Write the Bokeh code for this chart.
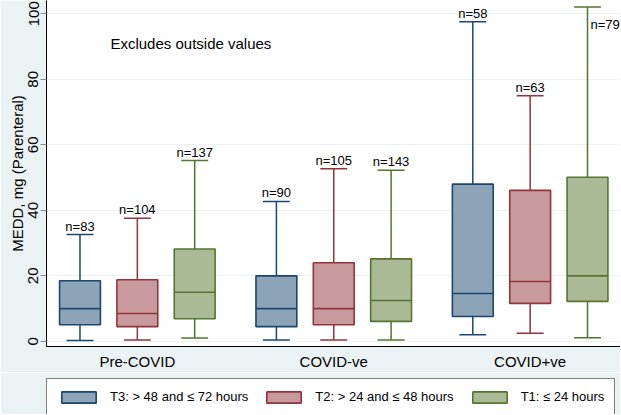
from bokeh.plotting import figure
from bokeh.layouts import column
from bokeh.models import ColumnDataSource, FixedTicker, Legend, LegendItem, Label
from bokeh.embed import file_html
from bokeh.resources import INLINE
from bokeh.core.properties import value

# ---------------- data ----------------
groups = ["Pre-COVID", "COVID-ve", "COVID+ve"]
series = ["T3: > 48 and \u2264 72 hours", "T2: > 24 and \u2264 48 hours", "T1: \u2264 24 hours"]

t3_low = [0.3, 0.4, 2.0]
t3_q1 = [5.1, 4.5, 7.6]
t3_med = [10.0, 10.0, 14.6]
t3_q3 = [18.5, 20.0, 48.0]
t3_high = [32.6, 42.7, 97.6]
t3_n = [83, 90, 58]

t2_low = [0.4, 0.4, 2.5]
t2_q1 = [4.5, 5.1, 11.6]
t2_med = [8.5, 10.0, 18.3]
t2_q3 = [18.8, 24.0, 46.1]
t2_high = [37.6, 52.7, 75.0]
t2_n = [104, 105, 63]

t1_low = [1.0, 0.4, 1.1]
t1_q1 = [6.9, 6.1, 12.2]
t1_med = [15.0, 12.5, 20.0]
t1_q3 = [28.2, 25.2, 50.1]
t1_high = [55.2, 52.2, 102.1]
t1_n = [137, 143, 79]

yticks = [0, 20, 40, 60, 80, 100]
note = "Excludes outside values"
ylabel = "MEDD, mg (Parenteral)"

# ---------------- styling ----------------
BG = "#EAF2F3"
FONT = "Liberation Sans"
line_cols = ["#1A476F", "#90353B", "#55752F"]
fill_cols = ["#8CA3B8", "#C89A9D", "#AABA97"]
offsets = [-0.292, 0.0, 0.292]
BOX_W = 0.208
CAP_W = 0.137

p = figure(width=620, height=372, output_backend="svg", toolbar_location=None,
           x_range=(0.5375, 3.46), y_range=(-1.56, 104.05),
           background_fill_color="white", border_fill_color=BG,
           min_border_left=40, min_border_right=0, min_border_top=0,
           min_border_bottom=25)
p.outline_line_color = None
p.xgrid.grid_line_color = None
p.ygrid.grid_line_color = BG
p.ygrid.grid_line_width = 1.2
p.ygrid.ticker = FixedTicker(ticks=yticks)

# y axis
p.yaxis.ticker = FixedTicker(ticks=yticks)
p.yaxis.axis_label = ylabel
p.yaxis.axis_label_text_font = FONT
p.yaxis.axis_label_text_font_style = "normal"
p.yaxis.axis_label_text_font_size = "15px"
p.yaxis.axis_label_text_color = "black"
p.yaxis.axis_label_standoff = 0
p.yaxis.major_label_orientation = "parallel"
p.yaxis.major_label_text_font = FONT
p.yaxis.major_label_text_font_size = "15px"
p.yaxis.major_label_text_color = "black"
p.yaxis.major_label_standoff = 2
p.yaxis.major_tick_out = 6
p.yaxis.major_tick_in = 0
p.yaxis.major_tick_line_color = "#8C8C8C"
p.yaxis.minor_tick_line_color = None
p.yaxis.axis_line_color = "black"

# x axis
p.xaxis.ticker = FixedTicker(ticks=[1, 2, 3])
p.xaxis.major_label_overrides = {i + 1: g for i, g in enumerate(groups)}
p.xaxis.major_label_text_font = FONT
p.xaxis.major_label_text_font_size = "15px"
p.xaxis.major_label_text_color = "black"
p.xaxis.major_label_standoff = 6
p.xaxis.major_tick_out = 0
p.xaxis.major_tick_in = 0
p.xaxis.minor_tick_line_color = None
p.xaxis.axis_line_color = "black"

all_stats = [
    (t3_low, t3_q1, t3_med, t3_q3, t3_high, t3_n),
    (t2_low, t2_q1, t2_med, t2_q3, t2_high, t2_n),
    (t1_low, t1_q1, t1_med, t1_q3, t1_high, t1_n),
]

# strip figure below that holds the legend (its proxy renderers lie outside its view)
pl = figure(width=620, height=42, output_backend="svg", toolbar_location=None,
            x_axis_type=None, y_axis_type=None, x_range=(100, 101), y_range=(1000, 1001),
            background_fill_color=BG, border_fill_color=BG,
            min_border_left=46, min_border_right=0, min_border_top=6, min_border_bottom=0)
pl.outline_line_color = None
pl.grid.grid_line_color = None

items = []
for k, (lo, q1, med, q3, hi, n) in enumerate(all_stats):
    xs = [g + 1 + offsets[k] for g in range(len(groups))]
    src = ColumnDataSource(dict(
        x=xs, lo=lo, q1=q1, med=med, q3=q3, hi=hi,
        cx0=[x - CAP_W / 2 for x in xs], cx1=[x + CAP_W / 2 for x in xs],
        bx0=[x - BOX_W / 2 for x in xs], bx1=[x + BOX_W / 2 for x in xs],
    ))
    lc, fc = line_cols[k], fill_cols[k]
    p.segment(x0="x", y0="q3", x1="x", y1="hi", source=src, line_color=lc, line_width=1.5)
    p.segment(x0="x", y0="lo", x1="x", y1="q1", source=src, line_color=lc, line_width=1.5)
    p.segment(x0="cx0", y0="hi", x1="cx1", y1="hi", source=src, line_color=lc, line_width=1.5)
    p.segment(x0="cx0", y0="lo", x1="cx1", y1="lo", source=src, line_color=lc, line_width=1.5)
    p.vbar(x="x", width=BOX_W, bottom="q1", top="q3", source=src,
           fill_color=fc, line_color=lc, line_width=1.6)
    p.segment(x0="bx0", y0="med", x1="bx1", y1="med", source=src, line_color=lc, line_width=1.6)

    # legend proxy: same data and style, drawn outside the strip's visible range
    rl = pl.vbar(x="x", width=BOX_W, bottom="q1", top="q3", source=src,
                 fill_color=fc, line_color=lc, line_width=1.6)
    items.append(LegendItem(label=series[k], renderers=[rl]))

    top_x, top_y, top_t = [], [], []
    side_x, side_y, side_t = [], [], []
    for x, h, nn in zip(xs, hi, n):
        if h > 100:
            side_x.append(x); side_y.append(h); side_t.append(f"n={nn}")
        else:
            top_x.append(x); top_y.append(h); top_t.append(f"n={nn}")
    p.text(x=top_x, y=top_y, text=top_t, text_align="center", text_baseline="bottom",
           y_offset=-1, text_font=value(FONT), text_font_size="13px", text_color="black")
    if side_x:
        p.text(x=side_x, y=side_y, text=side_t, text_align="left", text_baseline="middle",
               x_offset=3, y_offset=18, text_font=value(FONT), text_font_size="13px",
               text_color="black")

p.add_layout(Label(x=0.863, y=91, text=note, text_baseline="middle", text_align="left",
                   text_font=FONT, text_font_size="15px", text_color="black"))

legend = Legend(items=items, orientation="horizontal", location="top_left")
legend.margin = 0
legend.padding = 10
legend.spacing = 14
legend.label_standoff = 10
legend.glyph_width = 43
legend.glyph_height = 14
legend.label_text_font = FONT
legend.label_text_font_size = "13px"
legend.label_text_color = "black"
legend.border_line_color = "black"
legend.border_line_width = 1
legend.background_fill_color = "white"
legend.background_fill_alpha = 1.0
pl.add_layout(legend)

open("out.html", "w").write(file_html(column(p, pl, spacing=0), INLINE))
